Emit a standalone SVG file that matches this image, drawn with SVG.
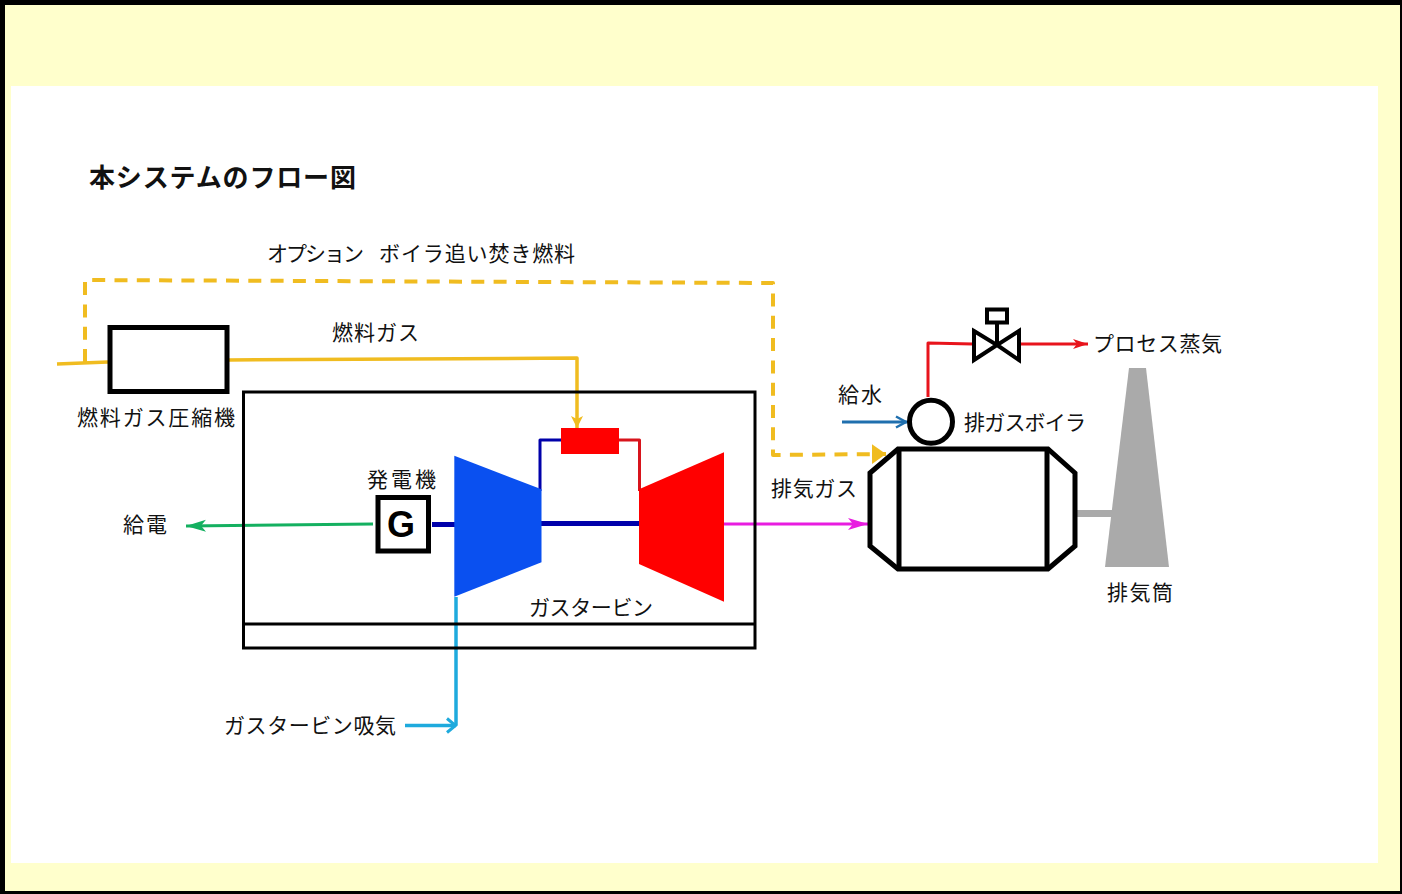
<svg xmlns="http://www.w3.org/2000/svg" width="1402" height="894" viewBox="0 0 1402 894">
<style>
text{font-family:"Noto Sans CJK JP","Liberation Sans",sans-serif;font-size:21px;fill:#111}
.k{fill:none;stroke:#000;stroke-linejoin:miter}
.l{fill:none;stroke-linejoin:round}
.y{stroke:#f0bc20}
</style>
<defs>
<marker id="ay" markerUnits="userSpaceOnUse" markerWidth="14" markerHeight="14" refX="12" refY="7" orient="auto"><path d="M0 1 12 7 0 13 3 7Z" fill="#f0bc20"/></marker>
<marker id="ad" markerUnits="userSpaceOnUse" markerWidth="16" markerHeight="22" refX="14" refY="11" orient="auto"><path d="M0 1 14 11 0 21Z" fill="#f0bc20"/></marker>
<marker id="ar" markerUnits="userSpaceOnUse" markerWidth="16" markerHeight="12" refX="15" refY="6" orient="auto"><path d="M0 1 15 6 0 11 4 6Z" fill="#e8141c"/></marker>
<marker id="am" markerUnits="userSpaceOnUse" markerWidth="22" markerHeight="14" refX="20" refY="7" orient="auto"><path d="M0 1 20 7 0 13 5 7Z" fill="#e81ce0"/></marker>
<marker id="ag" markerUnits="userSpaceOnUse" markerWidth="22" markerHeight="14" refX="20" refY="7" orient="auto"><path d="M0 1 20 7 0 13 5 7Z" fill="#14b060"/></marker>
<marker id="ab" markerUnits="userSpaceOnUse" markerWidth="16" markerHeight="14" refX="14" refY="7" orient="auto"><path d="M3 1.500 13 7 3 12.500" fill="none" stroke="#1f6fae" stroke-width="2.500"/></marker>
<marker id="ac" markerUnits="userSpaceOnUse" markerWidth="14" markerHeight="18" refX="12" refY="9" orient="auto"><path d="M3 2 11.500 9 3 16" fill="none" stroke="#1eaadd" stroke-width="3"/></marker>
</defs>
<rect width="1402" height="894" fill="#000"/>
<rect x="5" y="5" width="1395" height="886" fill="#ffc"/>
<rect x="11" y="86" width="1367" height="777" fill="#fff"/>
<text x="89" y="187" textLength="267" lengthAdjust="spacing" style="font-size:26px;font-weight:700">本システムのフロー図</text>
<g id="connectors">
<path class="l y" stroke-width="3.500" d="M57 364 108 362"/>
<path class="l y" stroke-width="3.500" d="M229 360 577 358V428" marker-end="url(#ay)"/>
<path class="l y" stroke-width="4" stroke-dasharray="13 9.300" d="M85 362V280L773 283V455L886 454" marker-end="url(#ad)"/>
<path class="l" stroke="#00a" stroke-width="3" d="M540 491V440H561"/>
<path class="l" stroke="#d8141c" stroke-width="3" d="M618 440H639.500V491"/>
<path class="l" stroke="#00a" stroke-width="5" d="M432 524.500H458M541 523.500H639"/>
<path class="l" stroke="#1eaadd" stroke-width="3.500" d="M456 597V725"/>
<path class="l" stroke="#1eaadd" stroke-width="3.500" d="M405 725.500H456" marker-end="url(#ac)"/>
<path class="l" stroke="#14b060" stroke-width="3" d="M373 524 186 526" marker-end="url(#ag)"/>
<path class="l" stroke="#e81ce0" stroke-width="3" d="M724 524H868" marker-end="url(#am)"/>
<path class="l" stroke="#1f6fae" stroke-width="3" d="M842 422H907" marker-end="url(#ab)"/>
<path class="l" stroke="#e8141c" stroke-width="3" d="M928 397V343L973 344M1020 344H1088" marker-end="url(#ar)"/>
<path fill="none" stroke="#aaa" stroke-width="7" d="M1076 513.500H1114"/>
</g>
<g id="turbine-package">
<rect class="k" x="243.500" y="392" width="511.500" height="256" stroke-width="3"/>
<path class="k" stroke-width="3" d="M243.500 624H755"/>
</g>
<g id="compressor"><path fill="#0a50f0" d="M454.300 455.700 541.500 489.300V562.300L454.300 596.700Z"/></g>
<g id="turbine"><path fill="#f00" d="M639 489.300 724 452.300V601.700L639 564Z"/></g>
<g id="combustor"><rect x="561" y="428" width="58" height="26" fill="#f00"/></g>
<g id="generator">
<rect class="k" x="378" y="497.500" width="50.500" height="53.500" stroke-width="5"/>
<text x="401" y="537" text-anchor="middle" style="font-family:'Liberation Sans',sans-serif;font-size:36px;font-weight:700;fill:#000">G</text>
</g>
<g id="fuel-compressor"><rect class="k" x="110" y="327.500" width="117" height="64" stroke-width="5" stroke-linejoin="round"/></g>
<g id="boiler">
<path class="k" stroke-width="5" d="M898 449H1048L1075 473V546L1048 569H898L870 546V473Z"/>
<path class="k" stroke-width="5" d="M899 449V569M1047 449V569"/>
</g>
<g id="drum"><circle class="k" cx="931" cy="421.700" r="21.500" stroke-width="5"/></g>
<g id="valve">
<path class="k" stroke-width="4" d="M974 331 997 345 974 360ZM1019 331 997 345 1019 360Z"/>
<path class="k" stroke-width="4" d="M997 345V323"/>
<rect class="k" x="987" y="309.500" width="20" height="13" stroke-width="4"/>
</g>
<g id="stack"><path fill="#aaa" d="M1129 368H1146L1169 567H1105Z"/></g>
<g id="labels">
<text x="267" y="261" textLength="97" lengthAdjust="spacing">オプション</text>
<text x="379" y="261" textLength="196" lengthAdjust="spacing">ボイラ追い焚き燃料</text>
<text x="332" y="340" textLength="87" lengthAdjust="spacing">燃料ガス</text>
<text x="77" y="425" textLength="158" lengthAdjust="spacing">燃料ガス圧縮機</text>
<text x="367" y="487" textLength="69" lengthAdjust="spacing">発電機</text>
<text x="529" y="615" textLength="124" lengthAdjust="spacing">ガスタービン</text>
<text x="123" y="532" textLength="44" lengthAdjust="spacing">給電</text>
<text x="224" y="733" textLength="172" lengthAdjust="spacing">ガスタービン吸気</text>
<text x="771" y="496" textLength="86" lengthAdjust="spacing">排気ガス</text>
<text x="838" y="402" textLength="44" lengthAdjust="spacing">給水</text>
<text x="964" y="430" textLength="122" lengthAdjust="spacing">排ガスボイラ</text>
<text x="1093" y="351" textLength="129" lengthAdjust="spacing">プロセス蒸気</text>
<text x="1107" y="600" textLength="66" lengthAdjust="spacing">排気筒</text>
</g>
</svg>
